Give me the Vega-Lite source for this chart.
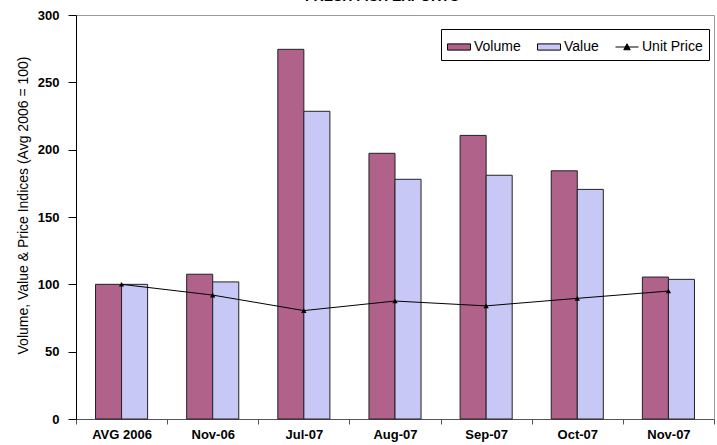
{
  "$schema": "https://vega.github.io/schema/vega-lite/v6.json",
  "width": 638,
  "height": 404,
  "autosize": "none",
  "padding": {"left": 76, "top": 15, "right": 3, "bottom": 26},
  "title": {"text": "FRESH FISH EXPORTS", "fontSize": 14, "fontWeight": "bold", "font": "Liberation Sans", "offset": 5, "anchor": "middle", "dx": -13, "color": "#000"},
  "config": {"view": {"stroke": "#999", "strokeWidth": 1}, "font": "Liberation Sans"},
  "data": {
    "values": [
      {"period": "AVG 2006", "series": "Volume", "value": 100},
      {"period": "AVG 2006", "series": "Value", "value": 100},
      {"period": "AVG 2006", "series": "Unit Price", "value": 100},
      {"period": "Nov-06", "series": "Volume", "value": 107.5},
      {"period": "Nov-06", "series": "Value", "value": 101.8},
      {"period": "Nov-06", "series": "Unit Price", "value": 92},
      {"period": "Jul-07", "series": "Volume", "value": 274.5},
      {"period": "Jul-07", "series": "Value", "value": 228.5},
      {"period": "Jul-07", "series": "Unit Price", "value": 80.5},
      {"period": "Aug-07", "series": "Volume", "value": 197.3},
      {"period": "Aug-07", "series": "Value", "value": 178},
      {"period": "Aug-07", "series": "Unit Price", "value": 87.6},
      {"period": "Sep-07", "series": "Volume", "value": 210.6},
      {"period": "Sep-07", "series": "Value", "value": 181},
      {"period": "Sep-07", "series": "Unit Price", "value": 84},
      {"period": "Oct-07", "series": "Volume", "value": 184.3},
      {"period": "Oct-07", "series": "Value", "value": 170.5},
      {"period": "Oct-07", "series": "Unit Price", "value": 89.6},
      {"period": "Nov-07", "series": "Volume", "value": 105.4},
      {"period": "Nov-07", "series": "Value", "value": 103.7},
      {"period": "Nov-07", "series": "Unit Price", "value": 95}
    ]
  },
  "encoding": {
    "x": {
      "field": "period",
      "type": "nominal",
      "sort": null,
      "scale": {"paddingInner": 0, "paddingOuter": 0},
      "axis": {
        "title": null,
        "labelAngle": 0,
        "labelFontSize": 13,
        "labelFontWeight": "bold",
        "labelColor": "#000",
        "labelPadding": 4,
        "tickBand": "extent",
        "tickSize": 5,
        "tickColor": "#555",
        "domainColor": "#555",
        "grid": false
      }
    },
    "y": {
      "field": "value",
      "type": "quantitative",
      "scale": {"domain": [0, 300], "nice": false},
      "axis": {
        "values": [0, 50, 100, 150, 200, 250, 300],
        "title": "Volume, Value & Price Indices (Avg 2006 = 100)",
        "titleFontSize": 14,
        "titleFontWeight": "normal",
        "titleColor": "#000",
        "titleX": -53,
        "titleY": 190,
        "titleBaseline": "middle",
        "titleAngle": -90,
        "labelFontSize": 13,
        "labelFontWeight": "bold",
        "labelColor": "#000",
        "labelPadding": 9,
        "tickSize": 8,
        "tickColor": "#000",
        "domainColor": "#000",
        "grid": false
      }
    }
  },
  "layer": [
    {
      "transform": [{"filter": "datum.series !== 'Unit Price'"}],
      "mark": {"type": "bar", "stroke": "#222", "strokeWidth": 1},
      "encoding": {
        "xOffset": {"field": "series", "type": "nominal", "sort": ["Volume", "Value"], "scale": {"domain": ["Volume", "Value"], "paddingInner": 0, "paddingOuter": 0.75}},
        "color": {
          "field": "series",
          "type": "nominal",
          "scale": {"domain": ["Volume", "Value", "Unit Price"], "range": ["#B0628A", "#C8C8F6", "#000000"]},
          "legend": {
            "title": null,
            "orient": "none",
            "legendX": 365,
            "legendY": 14,
            "direction": "horizontal",
            "strokeColor": "#000",
            "fillColor": "#fff",
            "padding": 6,
            "labelFontSize": 14,
            "labelColor": "#000",
            "labelOffset": 3,
            "columnPadding": 14,
            "symbolSize": 529,
            "symbolStrokeWidth": 1,
            "symbolStrokeColor": "#000",
            "symbolType": {"expr": "datum.value === 'Unit Price' ? 'M-1,0H1M-0.28,0.24L0,-0.28L0.28,0.24Z' : 'M-1,-0.27H1V0.27H-1Z'"}
          }
        }
      }
    },
    {
      "transform": [{"filter": "datum.series === 'Unit Price'"}],
      "mark": {"type": "line", "color": "#000", "strokeWidth": 1, "point": {"shape": "triangle-up", "size": 28, "filled": true, "color": "#000"}},
      "encoding": {}
    }
  ]
}
